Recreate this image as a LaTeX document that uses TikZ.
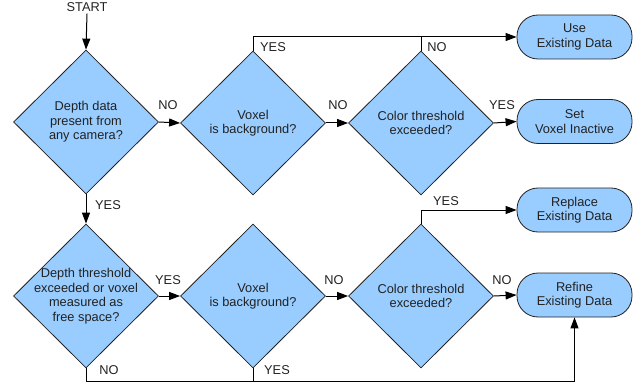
\documentclass[tikz,border=0pt]{standalone}
\usepackage{fontspec}
\setmainfont{Liberation Sans}
\usetikzlibrary{shapes.geometric,arrows.meta}
\definecolor{boxfill}{HTML}{99CCFF}
\definecolor{ink}{HTML}{222222}
\begin{document}
\begin{tikzpicture}[x=1pt,y=-1pt,
  every node/.style={font=\fontsize{12.8}{14.5}\selectfont, text=ink},
  decision/.style={shape=diamond, draw=ink, fill=boxfill, line width=0.8pt,
     minimum width=145pt, minimum height=144pt, inner sep=0pt},
  dtext/.style={align=center, inner sep=0pt},
  term/.style={draw=ink, fill=boxfill, line width=0.8pt, rounded corners=21pt,
     minimum width=115pt, minimum height=44pt, align=center, inner sep=0pt},
  lbl/.style={inner sep=0pt},
  conn/.style={draw=black, line width=1pt},
  arr/.style={conn, -{Triangle[length=11pt,width=8pt]}}
]
\useasboundingbox (0,0) rectangle (640,385);

% decisions
\node[decision, label={[dtext]center:Depth data\\present from\\any camera?}] (d1) at (86,122) {};
\node[decision, label={[dtext]center:Voxel\\is background?}] (d2) at (253,123) {};
\node[decision, label={[dtext]center:Color threshold\\exceeded?}] (d3) at (421,123) {};
\node[decision, label={[dtext]center:Depth threshold\\exceeded or voxel\\measured as\\free space?}] (d4) at (86,296) {};
\node[decision, label={[dtext]center:Voxel\\is background?}] (d5) at (253,296) {};
\node[decision, label={[dtext]center:Color threshold\\exceeded?}] (d6) at (421,296) {};

% terminals
\node[term] (use) at (574.5,37) {Use\\Existing Data};
\node[term] (set) at (574.5,121.5) {Set\\Voxel Inactive};
\node[term] (replace) at (574.5,210) {Replace\\Existing Data};
\node[term] (refine) at (574.5,295) {Refine\\Existing Data};

% start
\node[lbl] (start) at (87,7) {START};
\draw[arr] (start.south) ++(0,2) -- (d1.north);

% connectors
\draw[arr] (d1.east) -- (d2.west);
\draw[arr] (d2.north) |- (use.west);
\draw[conn] (d3.north) -- (d3.north |- use.west);
\draw[arr] (d2.east) -- (d3.west);
\draw[arr] (d3.east) -- (set.west);
\draw[arr] (d1.south) -- (d4.north);
\draw[arr] (d4.east) -- (d5.west);
\draw[arr] (d5.east) -- (d6.west);
\draw[arr] (d6.north) |- (replace.west);
\draw[arr] (d6.east) -- (refine.west);
\coordinate (bl) at (86,381);
\draw[arr] (d4.south) -- (bl) -| (refine.south);
\draw[conn] (d5.south) -- (d5.south |- bl);

% labels
\node[lbl] (l1) at (168,105) {NO};
\node[lbl] (l2) at (273,47) {YES};
\node[lbl] (l3) at (437,47) {NO};
\node[lbl] (l4) at (338,105) {NO};
\node[lbl] (l5) at (502,105) {YES};
\node[lbl] (l6) at (108,205) {YES};
\node[lbl] (l7) at (168,280) {YES};
\node[lbl] (l8) at (109,370) {NO};
\node[lbl] (l9) at (277,370) {YES};
\node[lbl] (l10) at (334,280) {NO};
\node[lbl] (l11) at (446,201) {YES};
\node[lbl] (l12) at (502,280) {NO};
\end{tikzpicture}
\end{document}
